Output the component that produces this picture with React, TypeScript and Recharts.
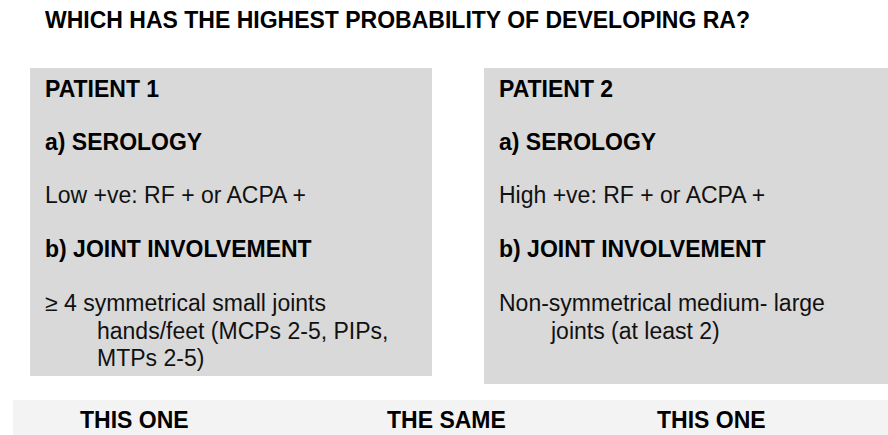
import { ComposedChart, XAxis, YAxis, ReferenceArea, Customized } from "recharts";

const TITLE = "WHICH HAS THE HIGHEST PROBABILITY OF DEVELOPING RA?";
const patients = ["PATIENT 1", "PATIENT 2"];
const serologyLabel = "a) SEROLOGY";
const serology = ["Low +ve: RF + or ACPA +", "High +ve: RF + or ACPA +"];
const jointLabel = "b) JOINT INVOLVEMENT";
const joints = [
  ["\u2265 4 symmetrical small joints", "hands/feet (MCPs 2-5, PIPs,", "MTPs 2-5)"],
  ["Non-symmetrical medium- large", "joints (at least 2)"],
];
const answers = ["THIS ONE", "THE SAME", "THIS ONE"];

const W = 888;
const H = 435;
const FONT = "'Liberation Sans', Arial, sans-serif";

// layout of the slide, in pixels
const boxes = [
  { x1: 30, x2: 432, y1: 68, y2: 376 },
  { x1: 484, x2: 900, y1: 68, y2: 384 },
];
const strip = { x1: 13, x2: 900, y1: 400, y2: 440 };
const answerX = [80, 387, 657];

const data = patients.map((p) => ({ name: p }));

const bold = { fontFamily: FONT, fontSize: 23, fontWeight: 700, fill: "#000" };
const normal = { fontFamily: FONT, fontSize: 23, fontWeight: 400, fill: "#111" };

function BoxText({ viewBox, i }: { viewBox?: any; i: number }) {
  if (!viewBox) return null;
  const x = viewBox.x + 15;
  const y = viewBox.y;
  return (
    <g>
      <text x={x} y={y + 28.5} {...bold}>
        {patients[i]}
      </text>
      <text x={x} y={y + 82} {...bold}>
        {serologyLabel}
      </text>
      <text x={x} y={y + 135} {...normal}>
        {serology[i]}
      </text>
      <text x={x} y={y + 189} {...bold}>
        {jointLabel}
      </text>
      {joints[i].map((line, j) => (
        <text key={j} x={j === 0 ? x : x + 52} y={y + 243 + j * 27.5} {...normal}>
          {line}
        </text>
      ))}
    </g>
  );
}

function AnswerText({ viewBox }: { viewBox?: any }) {
  if (!viewBox) return null;
  return (
    <g>
      {answers.map((a, i) => (
        <text key={i} x={answerX[i]} y={viewBox.y + 28} {...bold}>
          {a}
        </text>
      ))}
    </g>
  );
}

function Title() {
  return (
    <text x={45} y={27.5} {...bold}>
      {TITLE}
    </text>
  );
}

export default function App() {
  return (
    <div style={{ position: "absolute", left: 0, top: 0, width: W, height: H, background: "#fff" }}>
      <ComposedChart width={W} height={H} data={data} margin={{ top: 0, right: 0, bottom: 0, left: 0 }}>
        <XAxis type="number" dataKey="x" domain={[0, W]} hide allowDataOverflow />
        <YAxis type="number" domain={[0, H]} reversed hide allowDataOverflow />
        {boxes.map((b, i) => (
          <ReferenceArea
            key={i}
            x1={b.x1}
            x2={b.x2}
            y1={b.y1}
            y2={b.y2}
            fill="#d9d9d9"
            fillOpacity={1}
            stroke="none"
            ifOverflow="visible"
            label={{ content: (p: any) => <BoxText viewBox={p.viewBox} i={i} /> }}
          />
        ))}
        <ReferenceArea
          x1={strip.x1}
          x2={strip.x2}
          y1={strip.y1}
          y2={strip.y2}
          fill="#f3f3f3"
          fillOpacity={1}
          stroke="none"
          ifOverflow="visible"
          label={{ content: (p: any) => <AnswerText viewBox={p.viewBox} /> }}
        />
        <Customized component={<Title />} />
      </ComposedChart>
    </div>
  );
}
